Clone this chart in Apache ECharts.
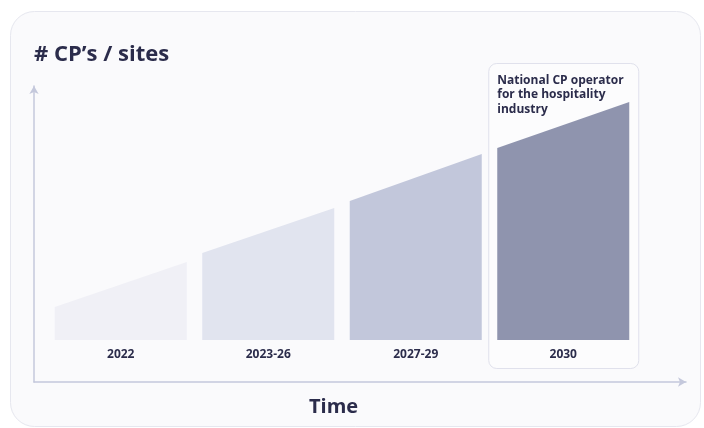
<!DOCTYPE html>
<html>
<head>
<meta charset="utf-8">
<script src="https://cdn.jsdelivr.net/npm/echarts@6/dist/echarts.min.js"></script>
<style>
html,body{margin:0;padding:0;background:#ffffff;}
#chart{width:704px;height:428px;}
</style>
</head>
<body>
<div id="chart"></div>
<script>
// ---- data ----
const categories = ['2022', '2023-26', '2027-29', '2030'];
const startValues = [33, 87, 139, 192];   // height at left edge of each period
const endValues = [78, 132, 186, 238];    // height at right edge of each period
const barColors = ['#f0f0f6', '#e1e4ef', '#c2c7db', '#8f94ae'];
const highlightIndex = 3;
const highlightNote = 'National CP operator\nfor the hospitality\nindustry';
const yTitle = '# CP’s / sites';
const xTitle = 'Time';

const textColor = '#2b2c4b';
const axisColor = '#c4c8dc';
const fontFamily = '"Open Sans", "Noto Sans", sans-serif';

const seriesData = categories.map((c, i) => [i, startValues[i], endValues[i]]);

const chart = echarts.init(document.getElementById('chart'), null, {renderer: 'canvas'});

const option = {
  backgroundColor: '#ffffff',
  animation: false,
  textStyle: {fontFamily: fontFamily},
  graphic: [{
    type: 'rect', z: -10, silent: true,
    shape: {x: 10.5, y: 11.5, width: 690, height: 415, r: 24},
    style: {fill: '#fafafc', stroke: '#e6e7ef', lineWidth: 1}
  }],
  title: [
    {text: yTitle, left: 29, top: 39,
     textStyle: {fontSize: 22, fontWeight: 'bold', color: textColor, fontFamily: fontFamily}},
    {text: xTitle, left: 304, top: 392,
     textStyle: {fontSize: 20, fontWeight: 'bold', color: textColor, fontFamily: fontFamily}}
  ],
  grid: [
    {left: 47, right: 67, top: 90, bottom: 88},
    {left: 34, right: 18, top: 86, bottom: 46}
  ],
  xAxis: [
    {type: 'category', gridIndex: 0, data: categories, boundaryGap: true, z: 5,
     axisLine: {show: false}, axisTick: {show: false}, splitLine: {show: false},
     axisLabel: {color: textColor, fontSize: 12, fontWeight: 'bold', margin: 9, fontFamily: fontFamily}},
    {type: 'value', gridIndex: 1, min: 0, max: 1,
     axisLine: {show: true, onZero: false, symbol: ['none', 'arrow'], symbolSize: [7, 8],
                lineStyle: {color: axisColor, width: 1.5}},
     axisTick: {show: false}, axisLabel: {show: false}, splitLine: {show: false}}
  ],
  yAxis: [
    {type: 'value', gridIndex: 0, min: 0, max: 250, show: false},
    {type: 'value', gridIndex: 1, min: 0, max: 1,
     axisLine: {show: true, onZero: false, symbol: ['none', 'arrow'], symbolSize: [7, 8],
                lineStyle: {color: axisColor, width: 1.5}},
     axisTick: {show: false}, axisLabel: {show: false}, splitLine: {show: false}}
  ],
  series: [{
    type: 'custom',
    xAxisIndex: 0, yAxisIndex: 0,
    z: 2,
    encode: {x: 0, y: [1, 2]},
    data: seriesData,
    renderItem: function (params, api) {
      const idx = api.value(0);
      const base = api.coord([idx, 0]);
      const band = api.size([1, 0])[0];
      const w = band * 0.895;
      const x0 = base[0] - w / 2, x1 = base[0] + w / 2;
      const yl = api.coord([idx, api.value(1)])[1];
      const yr = api.coord([idx, api.value(2)])[1];
      const children = [];
      if (idx === highlightIndex) {
        const top = yr - 39;
        children.push({
          type: 'rect',
          shape: {x: x0 - 8.5, y: top + 0.5, width: w + 18, height: base[1] + 28 - top, r: 8},
          style: {fill: '#fcfcfd', stroke: '#e0e1ec', lineWidth: 1}
        });
        children.push({
          type: 'text',
          style: {x: x0, y: top + 10, text: highlightNote, fill: textColor,
                  font: 'bold 12px ' + fontFamily, lineHeight: 14.5,
                  verticalAlign: 'top', align: 'left'}
        });
      }
      children.push({
        type: 'polygon',
        shape: {points: [[x0, base[1]], [x0, yl], [x1, yr], [x1, base[1]]]},
        style: {fill: barColors[idx]}
      });
      return {type: 'group', children: children};
    }
  }]
};
chart.setOption(option);
</script>
</body>
</html>
